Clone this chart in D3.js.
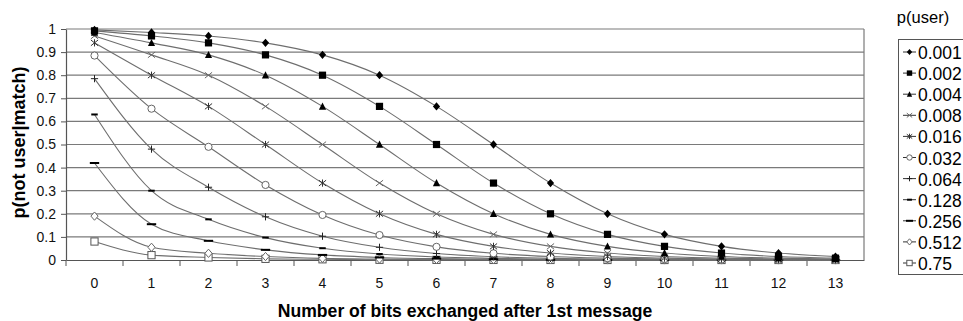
<!DOCTYPE html>
<html>
<head>
<meta charset="utf-8">
<script src="https://cdn.jsdelivr.net/npm/d3@7"></script>
<style>
  body { margin: 0; background: #fff; }
  svg { font-family: "Liberation Sans", Arial, sans-serif; }
</style>
</head>
<body>
<svg id="chart" width="963" height="321"></svg>
<script>
// data
const bits = [0, 1, 2, 3, 4, 5, 6, 7, 8, 9, 10, 11, 12, 13];
const yTicks = [0, 0.1, 0.2, 0.3, 0.4, 0.5, 0.6, 0.7, 0.8, 0.9, 1];
const seriesNames = ["0.001", "0.002", "0.004", "0.008", "0.016", "0.032", "0.064", "0.128", "0.256", "0.512", "0.75"];

const p0001 = [0.996, 0.985, 0.97, 0.94, 0.888, 0.80, 0.665, 0.50, 0.333, 0.20, 0.111, 0.059, 0.030, 0.015];
const p0002 = [0.992, 0.97, 0.94, 0.888, 0.80, 0.665, 0.50, 0.333, 0.20, 0.111, 0.059, 0.030, 0.015, 0.008];
const p0004 = [0.985, 0.94, 0.888, 0.80, 0.665, 0.50, 0.333, 0.20, 0.111, 0.059, 0.030, 0.015, 0.008, 0.004];
const p0008 = [0.97, 0.888, 0.80, 0.665, 0.50, 0.333, 0.20, 0.111, 0.059, 0.030, 0.015, 0.008, 0.004, 0.002];
const p0016 = [0.94, 0.80, 0.665, 0.50, 0.333, 0.20, 0.111, 0.059, 0.030, 0.015, 0.008, 0.004, 0.002, 0.001];
const p0032 = [0.885, 0.655, 0.49, 0.325, 0.195, 0.108, 0.057, 0.029, 0.015, 0.008, 0.004, 0.002, 0.001, 0.0005];
const p0064 = [0.785, 0.48, 0.315, 0.187, 0.103, 0.055, 0.028, 0.014, 0.007, 0.004, 0.002, 0.001, 0.0005, 0.0002];
const p0128 = [0.63, 0.30, 0.176, 0.097, 0.051, 0.026, 0.013, 0.007, 0.003, 0.002, 0.001, 0.0004, 0.0002, 0.0001];
const p0256 = [0.42, 0.155, 0.083, 0.044, 0.022, 0.011, 0.006, 0.003, 0.001, 0.0007, 0.0004, 0.0002, 0.0001, 0];
const p0512 = [0.19, 0.055, 0.029, 0.015, 0.007, 0.004, 0.002, 0.001, 0.0005, 0.0002, 0.0001, 0, 0, 0];
const p075  = [0.08, 0.021, 0.011, 0.005, 0.003, 0.001, 0.0007, 0.0003, 0.0002, 0.0001, 0, 0, 0, 0];

const allSeries = [p0001, p0002, p0004, p0008, p0016, p0032, p0064, p0128, p0256, p0512, p075];
const markerKinds = ["diamond", "square", "triangle", "x", "asterisk", "circle", "plus", "dash", "longdash", "odiamond", "osquare"];

const margin = {top: 29, right: 99, bottom: 61, left: 66};
const width = 963, height = 321;
const innerW = width - margin.left - margin.right;
const innerH = height - margin.top - margin.bottom;

const svg = d3.select("#chart");
const chart = svg.append("g").attr("transform", `translate(${margin.left},${margin.top})`);

const xband = d3.scaleBand().domain(bits).range([0, innerW]);
const xscale = d => xband(d) + xband.bandwidth() / 2;
const yscale = d3.scaleLinear().domain([0, 1]).range([innerH, 0]);

// grid
chart.append("g").selectAll("line")
  .data(yTicks.filter(t => t > 0))
  .join("line")
  .attr("x1", 0).attr("x2", innerW)
  .attr("y1", d => yscale(d)).attr("y2", d => yscale(d))
  .attr("stroke", "#7a7a7a").attr("stroke-width", 1.2);

chart.append("line")
  .attr("x1", innerW).attr("x2", innerW).attr("y1", 0).attr("y2", innerH)
  .attr("stroke", "#7a7a7a").attr("stroke-width", 1.2);

// axes
const yaxis = d3.axisLeft(yscale).tickValues(yTicks).tickSize(5).tickSizeOuter(0).tickFormat(d3.format("~g"));
const yg = chart.append("g").call(yaxis);
yg.select(".domain").attr("stroke", "#555").attr("stroke-width", 1.2);
yg.selectAll(".tick line").attr("stroke", "#555");
yg.selectAll("text").attr("font-size", 14).attr("fill", "#111").attr("x", -10);

const xaxis = d3.axisBottom(xband).tickSize(0).tickSizeOuter(0);
const xg = chart.append("g").attr("transform", `translate(0,${innerH})`).call(xaxis);
xg.select(".domain").attr("stroke", "#555").attr("stroke-width", 1.2);
xg.selectAll("text").attr("font-size", 14).attr("fill", "#111").attr("dy", "1.75em");
// tick marks sit between categories
xg.append("g").selectAll("line")
  .data(bits)
  .join("line")
  .attr("x1", d => xband(d)).attr("x2", d => xband(d))
  .attr("y1", 0).attr("y2", 6)
  .attr("stroke", "#555");

// markers
function drawMarker(g, kind, s) {
  s = s || 1;
  const r = 3.6 * s;
  if (kind === "diamond") {
    g.append("path").attr("d", `M0,${-r * 1.15}L${r},0L0,${r * 1.15}L${-r},0Z`).attr("fill", "#000");
  } else if (kind === "square") {
    g.append("rect").attr("x", -r).attr("y", -r).attr("width", 2 * r).attr("height", 2 * r).attr("fill", "#000");
  } else if (kind === "triangle") {
    g.append("path").attr("d", `M0,${-r * 1.1}L${r},${r * 0.9}L${-r},${r * 0.9}Z`).attr("fill", "#000");
  } else if (kind === "x") {
    g.append("path").attr("d", `M${-r},${-r * 0.8}L${r},${r * 0.8}M${-r},${r * 0.8}L${r},${-r * 0.8}`)
      .attr("stroke", "#666").attr("stroke-width", 1).attr("fill", "none");
  } else if (kind === "asterisk") {
    g.append("path").attr("d", `M${-r},${-r * 0.8}L${r},${r * 0.8}M${-r},${r * 0.8}L${r},${-r * 0.8}M0,${-r}L0,${r}`)
      .attr("stroke", "#333").attr("stroke-width", 1).attr("fill", "none");
  } else if (kind === "circle") {
    g.append("circle").attr("r", r).attr("fill", "#fff").attr("stroke", "#666").attr("stroke-width", 1);
  } else if (kind === "plus") {
    g.append("path").attr("d", `M${-r},0L${r},0M0,${-r}L0,${r}`)
      .attr("stroke", "#222").attr("stroke-width", 1).attr("fill", "none");
  } else if (kind === "dash") {
    g.append("path").attr("d", `M${-r * 0.9},0L${r * 0.9},0`).attr("stroke", "#000").attr("stroke-width", 2);
  } else if (kind === "longdash") {
    g.append("path").attr("d", `M${-r * 1.3},0L${r * 1.3},0`).attr("stroke", "#000").attr("stroke-width", 2);
  } else if (kind === "odiamond") {
    g.append("path").attr("d", `M0,${-r * 1.15}L${r},0L0,${r * 1.15}L${-r},0Z`)
      .attr("fill", "#fff").attr("stroke", "#666").attr("stroke-width", 1);
  } else if (kind === "osquare") {
    g.append("rect").attr("x", -r).attr("y", -r).attr("width", 2 * r).attr("height", 2 * r)
      .attr("fill", "#fff").attr("stroke", "#555").attr("stroke-width", 1);
  }
}

const line = d3.line()
  .x((d, i) => xscale(bits[i]))
  .y(d => yscale(d))
  .curve(d3.curveMonotoneX);

// draw from lowest series up so the top curves sit on top
const order = d3.range(allSeries.length).reverse();
order.forEach(si => {
  chart.append("path")
    .datum(allSeries[si])
    .attr("d", line)
    .attr("fill", "none")
    .attr("stroke", "#6e6e6e")
    .attr("stroke-width", 1.1);
});
order.forEach(si => {
  allSeries[si].forEach((v, i) => {
    const g = chart.append("g").attr("transform", `translate(${xscale(bits[i])},${yscale(v)})`);
    drawMarker(g, markerKinds[si]);
  });
});

// axis titles
svg.append("text")
  .attr("transform", `translate(20,${margin.top + innerH / 2 - 2}) rotate(-90)`)
  .attr("text-anchor", "middle")
  .attr("dominant-baseline", "middle")
  .attr("font-size", 18).attr("font-weight", "bold")
  .text("p(not user|match)");

svg.append("text")
  .attr("x", 465)
  .attr("y", 317)
  .attr("text-anchor", "middle")
  .attr("font-size", 17.6).attr("font-weight", "bold")
  .text("Number of bits exchanged after 1st message");

// legend
const legend = svg.append("g");
legend.append("text")
  .attr("x", 923).attr("y", 23)
  .attr("text-anchor", "middle")
  .attr("font-size", 16.5)
  .text("p(user)");

legend.append("rect")
  .attr("x", 898.5).attr("y", 39.5).attr("width", 70).attr("height", 235)
  .attr("fill", "#fff").attr("stroke", "#555").attr("stroke-width", 1);

const ly = d3.scalePoint().domain(seriesNames).range([52, 263]);
seriesNames.forEach((name, si) => {
  const y = ly(name);
  legend.append("line").attr("x1", 903).attr("x2", 916).attr("y1", y).attr("y2", y)
    .attr("stroke", "#333").attr("stroke-width", 1);
  const g = legend.append("g").attr("transform", `translate(909.5,${y})`);
  drawMarker(g, markerKinds[si], 0.75);
  legend.append("text")
    .attr("x", 918).attr("y", y + 1)
    .attr("dominant-baseline", "central")
    .attr("font-size", 17.5)
    .text(name);
});
</script>
</body>
</html>
